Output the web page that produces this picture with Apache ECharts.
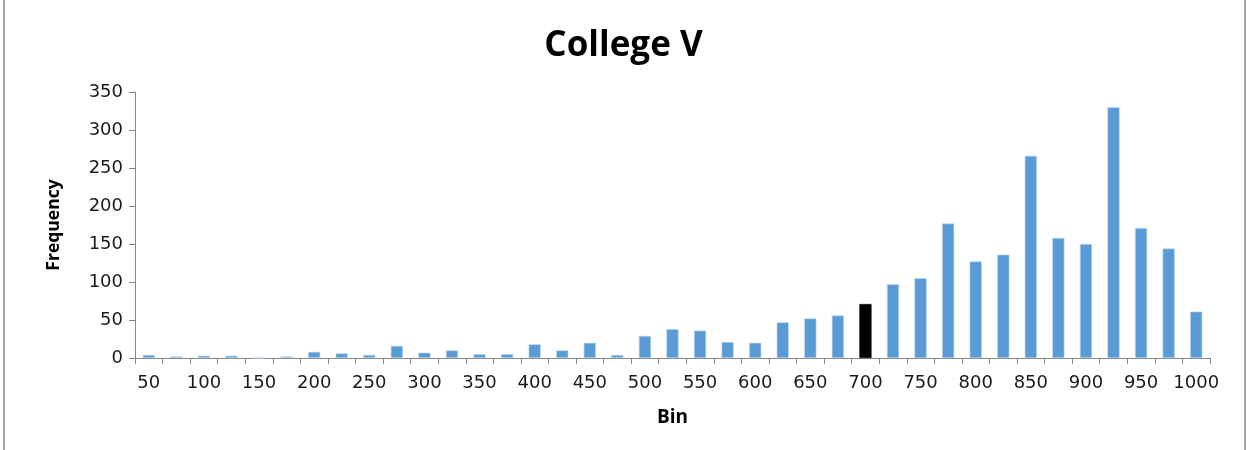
<!DOCTYPE html>
<html>
<head>
<meta charset="utf-8">
<script src="https://cdn.jsdelivr.net/npm/echarts@6/dist/echarts.min.js"></script>
<style>
  html, body { margin: 0; padding: 0; background: #fff; }
  #chart { width: 1247px; height: 450px; }
</style>
</head>
<body>
<div id="chart"></div>
<script>
// bins 50..1000 step 25
const bins = [
  '50', '75', '100', '125', '150', '175', '200', '225', '250', '275',
  '300', '325', '350', '375', '400', '425', '450', '475', '500', '525',
  '550', '575', '600', '625', '650', '675', '700', '725', '750', '775',
  '800', '825', '850', '875', '900', '925', '950', '975', '1000'
]
const frequency = [
  4, 2, 3, 3, 0, 2, 8, 6, 4, 16,
  7, 10, 5, 5, 18, 10, 20, 4, 29, 38,
  36, 21, 20, 47, 52, 56, 71, 97, 105, 177,
  127, 136, 266, 158, 150, 330, 171, 144, 61
]
// highlighted bin
const markedBin = '700'

const BLUE = '#5B9BD5'
const AXIS = '#868686'

const chart = echarts.init(document.getElementById('chart'))
chart.setOption({
  animation: false,
  title: {
    text: 'College V',
    left: 'center',
    top: 24,
    textStyle: { fontFamily: 'Open Sans', fontWeight: 'bold', fontSize: 35, color: '#000' }
  },
  grid: { left: 135, right: 37, top: 92, bottom: 92 },
  xAxis: {
    type: 'category',
    data: bins,
    name: 'Bin',
    nameLocation: 'middle',
    nameGap: 50,
    nameTextStyle: { fontFamily: 'Open Sans', fontWeight: 'bold', fontSize: 19, color: '#000' },
    axisLine: { lineStyle: { color: AXIS, width: 1 } },
    axisTick: { show: true, interval: 0, length: 6, lineStyle: { color: AXIS } },
    axisLabel: { interval: 1, margin: 16, fontFamily: 'DejaVu Sans', fontSize: 18, color: '#1a1a1a' }
  },
  yAxis: {
    type: 'value',
    min: 0,
    max: 350,
    interval: 50,
    name: 'Frequency',
    nameLocation: 'middle',
    nameGap: 72,
    nameRotate: 90,
    nameTextStyle: { fontFamily: 'Open Sans', fontWeight: 'bold', fontSize: 17.5, color: '#000' },
    axisLine: { show: true, lineStyle: { color: AXIS, width: 1 } },
    axisTick: { show: true, length: 6, lineStyle: { color: AXIS } },
    splitLine: { show: false },
    axisLabel: { margin: 12, fontFamily: 'DejaVu Sans', fontSize: 18, color: '#1a1a1a' }
  },
  series: [{
    type: 'bar',
    barWidth: '44%',
    data: frequency.map((v, i) => ({
      value: v,
      itemStyle: bins[i] === markedBin ? { color: '#000', borderColor: '#000' } : {}
    })),
    itemStyle: { color: BLUE, borderColor: '#BDD7EE', borderWidth: 0.6 }
  }],
  graphic: [
    { type: 'line', shape: { x1: 4, y1: 0, x2: 4, y2: 450 }, style: { stroke: '#8a8a8a', lineWidth: 1.5 } },
    { type: 'line', shape: { x1: 1245, y1: 0, x2: 1245, y2: 450 }, style: { stroke: '#8a8a8a', lineWidth: 1.5 } }
  ]
})
</script>
</body>
</html>
